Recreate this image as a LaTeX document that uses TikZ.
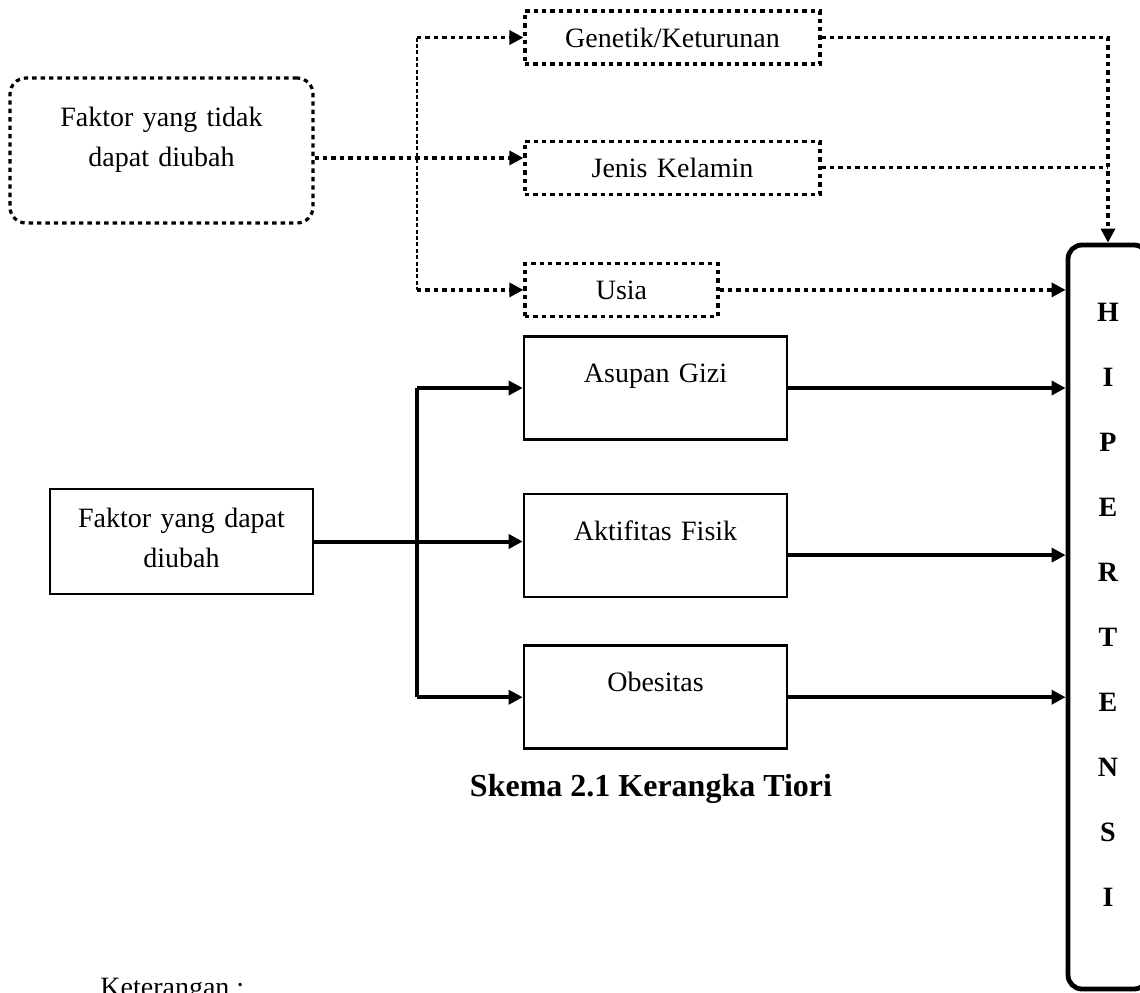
\documentclass[tikz,border=0pt]{standalone}
\usepackage{fontspec}
\setmainfont{Liberation Serif}
\usepackage{tikz}
\usetikzlibrary{arrows.meta,positioning,calc}
\newcommand\bodyfont{\fontsize{14pt}{20pt}\selectfont}

\begin{document}
\begin{tikzpicture}[x=1pt, y=-1pt,
  dotbox/.style={
    draw=black, line width=1.6pt, dash pattern=on 2.2pt off 2pt,
    text width=#1, align=center, minimum height=26.5pt,
    inner xsep=0pt, inner ysep=0pt, font=\bodyfont
  },
  softbox/.style={
    draw=black, line width=1.6pt, dash pattern=on 2.2pt off 2pt,
    rounded corners=8pt, text width=151.5pt, align=center,
    inner xsep=0pt, inner ysep=0pt, font=\bodyfont
  },
  box/.style={
    draw=black, line width=1.3pt, text width=131.5pt, align=center,
    inner xsep=0pt, inner ysep=0pt, font=\bodyfont
  },
  midbox/.style={box, text height=23pt, text depth=28.5pt},
  hipbox/.style={
    draw=black, line width=2.4pt, rounded corners=7pt,
    text width=40pt, align=center, inner xsep=0pt, inner ysep=0pt,
    text height=38pt, text depth=334pt,
    font=\bfseries\fontsize{14pt}{32.5pt}\selectfont
  },
  dotline/.style={line width=1.6pt, dash pattern=on 2.2pt off 2pt},
  dotarr/.style={dotline, -{Triangle[length=7pt,width=7pt]}},
  branch/.style={line width=0.9pt, dash pattern=on 2pt off 1.2pt},
  line/.style={line width=2pt},
  arr/.style={line, -{Triangle[length=7pt,width=7pt]}}
]
  \path[use as bounding box, clip] (0,0) rectangle (570,496);

  % faktor yang tidak dapat diubah
  \node[softbox, text height=24pt, text depth=48.5pt] (tdk) at (80.75,75.25)
    {Faktor yang tidak\\ dapat diubah};
  \node[dotbox=147.5pt] (gen) at (336.25,18.75) {Genetik/Keturunan};
  \node[dotbox=147.5pt, below=37pt of gen] (jns) {Jenis Kelamin};
  \node[dotbox=96.5pt, below=33pt of jns.south west, anchor=north west] (usia) {Usia};

  % faktor yang dapat diubah
  \node[box, text height=19pt, text depth=33.5pt] (dpt) at (90.75,270.75)
    {Faktor yang dapat\\ diubah};
  \node[midbox] (asp) at (327.75,194) {Asupan Gizi};
  \node[midbox, below=26pt of asp] (akt) {Aktifitas Fisik};
  \node[midbox, below=23pt of akt] (obs) {Obesitas};

  \node[hipbox] (hip) at (554,308.5) {H\\ I\\ P\\ E\\ R\\ T\\ E\\ N\\ S\\ I};

  \node[font=\bfseries\fontsize{16pt}{19pt}\selectfont] (judul) at (325.5,394.5)
    {Skema 2.1 Kerangka Tiori};
  \node[font=\bodyfont, anchor=base west, inner sep=0pt] (ket) at (50,498)
    {Keterangan :};

  % cabang bertitik
  \coordinate (tsplit) at (208.5,79);
  \draw[branch] (tsplit |- gen.west) -- (tsplit |- usia.west);
  \draw[dotarr] (tsplit |- gen.west) -- (gen.west);
  \draw[dotarr] (tsplit -| tdk.east) -- (tsplit -| jns.west);
  \draw[dotarr] (tsplit |- usia.west) -- (usia.west);
  \draw[dotarr] (gen.east) -| (hip.north);
  \draw[dotline] (jns.east) -- (jns.east -| hip.north);
  \draw[dotarr] (usia.east) -- (usia.east -| hip.west);

  % cabang garis penuh
  \coordinate (ssplit) at (208.5,270);
  \draw[line] (ssplit |- asp.west) -- (ssplit |- obs.west);
  \draw[arr] (ssplit |- asp.west) -- (asp.west);
  \draw[arr] (dpt.east) -- (dpt.east -| akt.west);
  \draw[arr] (ssplit |- obs.west) -- (obs.west);
  \coordinate (aktout) at ([yshift=-4.75pt]akt.east);
  \draw[arr] (asp.east) -- (asp.east -| hip.west);
  \draw[arr] (aktout) -- (aktout -| hip.west);
  \draw[arr] (obs.east) -- (obs.east -| hip.west);
\end{tikzpicture}
\end{document}
